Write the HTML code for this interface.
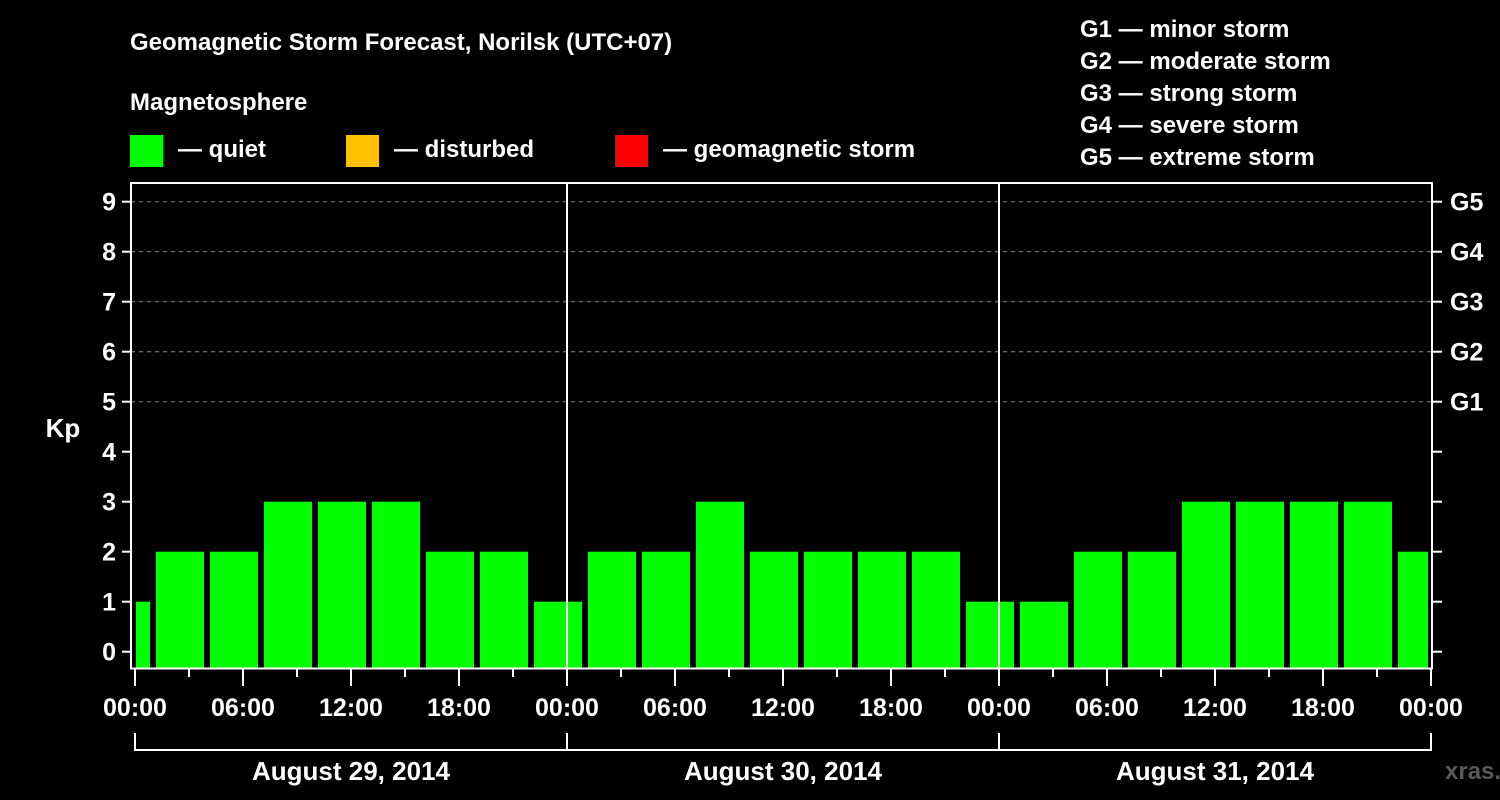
<!DOCTYPE html>
<html><head><meta charset="utf-8">
<style>
html,body{margin:0;padding:0;background:#000;}
svg{display:block;}
text{font-family:"Liberation Sans",sans-serif;font-weight:bold;fill:#fff;}
</style></head>
<body>
<svg id="chart" width="1500" height="800" viewBox="0 0 1500 800" xmlns="http://www.w3.org/2000/svg">
  <rect x="0" y="0" width="1500" height="800" fill="#000"/>
  <text x="130" y="50" font-size="24">Geomagnetic Storm Forecast, Norilsk (UTC+07)</text>
  <text x="130" y="110" font-size="24">Magnetosphere</text>
  <g>
    <rect x="130" y="135" width="33" height="32" fill="#00ff00"/>
    <text x="178" y="157" font-size="24">— quiet</text>
  </g>
  <g>
    <rect x="346" y="135" width="33" height="32" fill="#ffc000"/>
    <text x="394" y="157" font-size="24">— disturbed</text>
  </g>
  <g>
    <rect x="615" y="135" width="33" height="32" fill="#ff0000"/>
    <text x="663" y="157" font-size="24">— geomagnetic storm</text>
  </g>
  <g font-size="24">
    <text x="1080" y="37">G1 — minor storm</text>
    <text x="1080" y="69">G2 — moderate storm</text>
    <text x="1080" y="101">G3 — strong storm</text>
    <text x="1080" y="133">G4 — severe storm</text>
    <text x="1080" y="165">G5 — extreme storm</text>
  </g>
  <text x="63" y="437" font-size="26" text-anchor="middle">Kp</text>
  <text x="1445" y="779" font-size="24" fill="#555" style="fill:#5a5a5a">xras.ru</text>
  <g id="grid"></g>
  <defs><clipPath id="plotclip"><rect x="136" y="183" width="1292" height="486"/></clipPath></defs>
  <g id="bars" clip-path="url(#plotclip)"></g>
  <g id="axes"></g>
</svg>
<script>
const kpValues = [1,2,2,3,3,3,2,2,1, 2,2,3,2,2,2,2,1, 1,2,2,3,3,3,3,2];
const yTickLabels = ["0","1","2","3","4","5","6","7","8","9"];
const gLabels = ["G1","G2","G3","G4","G5"];
const gLevels = [5,6,7,8,9];
const xTickLabels = ["00:00","06:00","12:00","18:00","00:00","06:00","12:00","18:00","00:00","06:00","12:00","18:00","00:00"];
const dayLabels = ["August 29, 2014","August 30, 2014","August 31, 2014"];

const NS = "http://www.w3.org/2000/svg";
const X0 = 135, HOUR = 18, Y0 = 651.7, UNIT = 50;
const FL = 131, FR = 1432, FT = 183, FB = 668.5;
function xs(h){ return X0 + h*HOUR; }
function ys(v){ return Y0 - v*UNIT; }
function mk(tag, attrs, parent){
  const e = document.createElementNS(NS, tag);
  for (const k in attrs) e.setAttribute(k, attrs[k]);
  parent.appendChild(e);
  return e;
}
const grid = document.getElementById("grid");
const bars = document.getElementById("bars");
const axes = document.getElementById("axes");

// horizontal dashed gridlines at G levels
gLevels.forEach(function(v){
  const l = mk("line", {x1:FL, x2:FR, y1:ys(v), y2:ys(v), stroke:"#8a8a8a", "stroke-width":1, "stroke-dasharray":"4,4"}, grid);
  
  
});

// bars: each 3-hour slot, centred at slot start + 2.5h
kpValues.forEach(function(v, i){
  const cx = xs(i*3 - 0.5);
  const r = mk("rect", {x:cx-24, y:ys(v), width:48, height:FB-ys(v), fill:"#00ff00"}, bars);
  
  
});

// frame
const fr = mk("rect", {x:FL, y:FT, width:FR-FL, height:FB-FT, fill:"none", stroke:"#fff", "stroke-width":2}, axes);



// day separators
[1,2].forEach(function(d){
  const l = mk("line", {x1:xs(d*24), x2:xs(d*24), y1:FT, y2:FB, stroke:"#fff", "stroke-width":2}, axes);
  
  
});

// y ticks & labels
yTickLabels.forEach(function(lab, i){
  mk("line", {x1:122, x2:FL, y1:ys(i), y2:ys(i), stroke:"#fff", "stroke-width":2}, axes);
  mk("line", {x1:FR, x2:1442, y1:ys(i), y2:ys(i), stroke:"#fff", "stroke-width":2}, axes);
  const t = mk("text", {x:116, y:ys(i)+9, "font-size":25, "text-anchor":"end"}, axes);
  t.textContent = lab;
  
  
});
gLabels.forEach(function(lab, i){
  const t = mk("text", {x:1450, y:ys(gLevels[i])+9, "font-size":25}, axes);
  t.textContent = lab;
  
  
});

// x ticks
for (let h = 0; h <= 72; h += 3){
  const major = (h % 6 === 0);
  mk("line", {x1:xs(h), x2:xs(h), y1:FB, y2:major?686:677, stroke:"#fff", "stroke-width":2}, axes);
}
xTickLabels.forEach(function(lab, i){
  const t = mk("text", {x:xs(i*6), y:716, "font-size":25, "text-anchor":"middle"}, axes);
  t.textContent = lab;
  
  
});

// date bracket
mk("line", {x1:xs(0), x2:xs(72), y1:750, y2:750, stroke:"#fff", "stroke-width":2}, axes);
for (let d = 0; d <= 3; d++){
  mk("line", {x1:xs(d*24), x2:xs(d*24), y1:733, y2:751, stroke:"#fff", "stroke-width":2}, axes);
}
dayLabels.forEach(function(lab, d){
  const t = mk("text", {x:xs(d*24+12), y:780, "font-size":26, "text-anchor":"middle"}, axes);
  t.textContent = lab;
  
  
});
</script>
</body></html>
